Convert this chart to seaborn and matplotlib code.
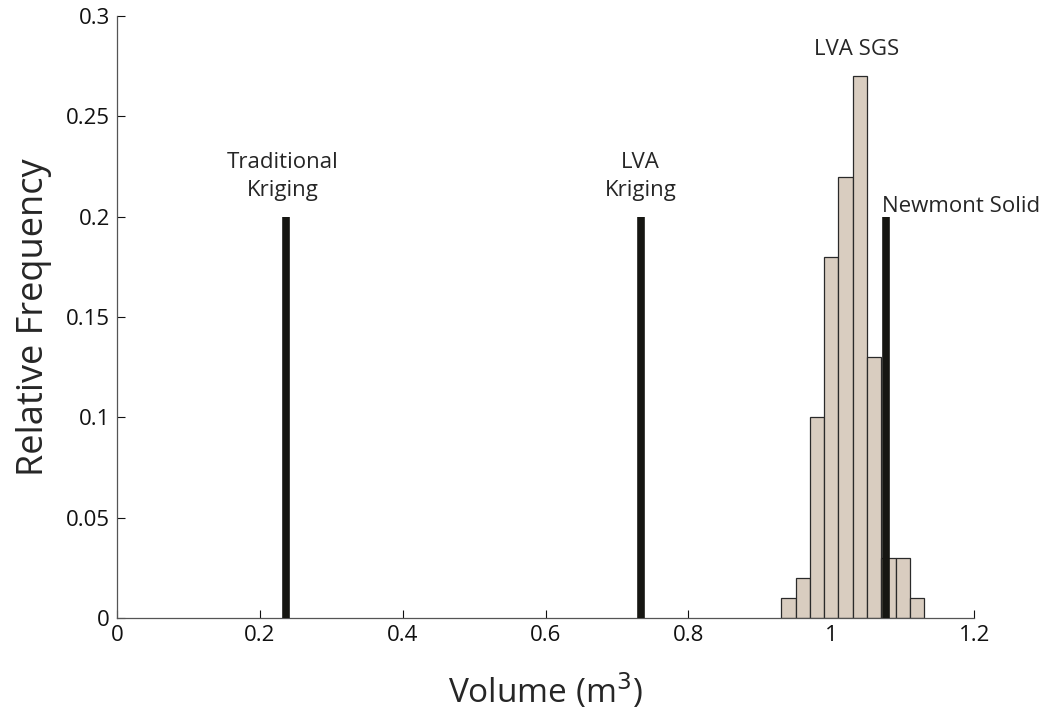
import numpy as np
import pandas as pd
import matplotlib
matplotlib.use("Agg")
import matplotlib.pyplot as plt
import seaborn as sns

# Data
bin_edges = [0.93, 0.95, 0.97, 0.99, 1.01, 1.03, 1.05, 1.07, 1.09, 1.11, 1.13]
sgs_freq = [0.01, 0.02, 0.10, 0.18, 0.22, 0.27, 0.13, 0.03, 0.03, 0.01]
line_names = ["Traditional\nKriging", "LVA\nKriging", "Newmont Solid"]
line_x = [0.237, 0.733, 1.076]
line_h = [0.2, 0.2, 0.2]
x_ticks = [0, 0.2, 0.4, 0.6, 0.8, 1, 1.2]
x_ticklabels = ["0", "0.2", "0.4", "0.6", "0.8", "1", "1.2"]
y_ticks = [0, 0.05, 0.1, 0.15, 0.2, 0.25, 0.3]
y_ticklabels = ["0", "0.05", "0.1", "0.15", "0.2", "0.25", "0.3"]

sns.set_theme(style="ticks")
plt.rcParams["font.family"] = ["Open Sans", "DejaVu Sans"]

fig = plt.figure(figsize=(10.6, 7.15), dpi=100)
ax = fig.add_axes([0.1104, 0.1357, 0.8086, 0.8419])

centers = [(bin_edges[i] + bin_edges[i + 1]) / 2 for i in range(len(sgs_freq))]
df = pd.DataFrame({"vol": centers, "w": sgs_freq})
sns.histplot(data=df, x="vol", weights="w", bins=bin_edges, stat="count",
             color="#d9cdc0", edgecolor="#2a2a2a", linewidth=0.9, alpha=1, ax=ax)

ax.vlines(line_x, 0, line_h, colors="#161612", linewidth=5.5, zorder=5)

# labels
ax.text(line_x[0] - 0.005, 0.2 + 0.008, line_names[0], ha="center", va="bottom",
        fontsize=16, linespacing=1.4)
ax.text(line_x[1], 0.2 + 0.008, line_names[1], ha="center", va="bottom",
        fontsize=16, linespacing=1.4)
ax.text(line_x[2] - 0.005, 0.2 + 0.0, line_names[2], ha="left", va="bottom",
        fontsize=16)
ax.text(1.036, 0.278, "LVA SGS", ha="center", va="bottom", fontsize=16)

ax.set_xlim(0, 1.2)
ax.set_ylim(0, 0.3)
ax.set_xticks(x_ticks)
ax.set_xticklabels(x_ticklabels)
ax.set_yticks(y_ticks)
ax.set_yticklabels(y_ticklabels)
ax.tick_params(direction="in", length=6, width=0.8, labelsize=16, colors="#111111",
               pad=5)
ax.set_xlabel("Volume (m$^3$)", fontsize=24, labelpad=18)
ax.set_ylabel("Relative Frequency", fontsize=26, labelpad=10)
for s in ["top", "right"]:
    ax.spines[s].set_visible(False)
for s in ["left", "bottom"]:
    ax.spines[s].set_linewidth(0.9)
    ax.spines[s].set_color("#555555")

fig.savefig("out.png", dpi=100)
